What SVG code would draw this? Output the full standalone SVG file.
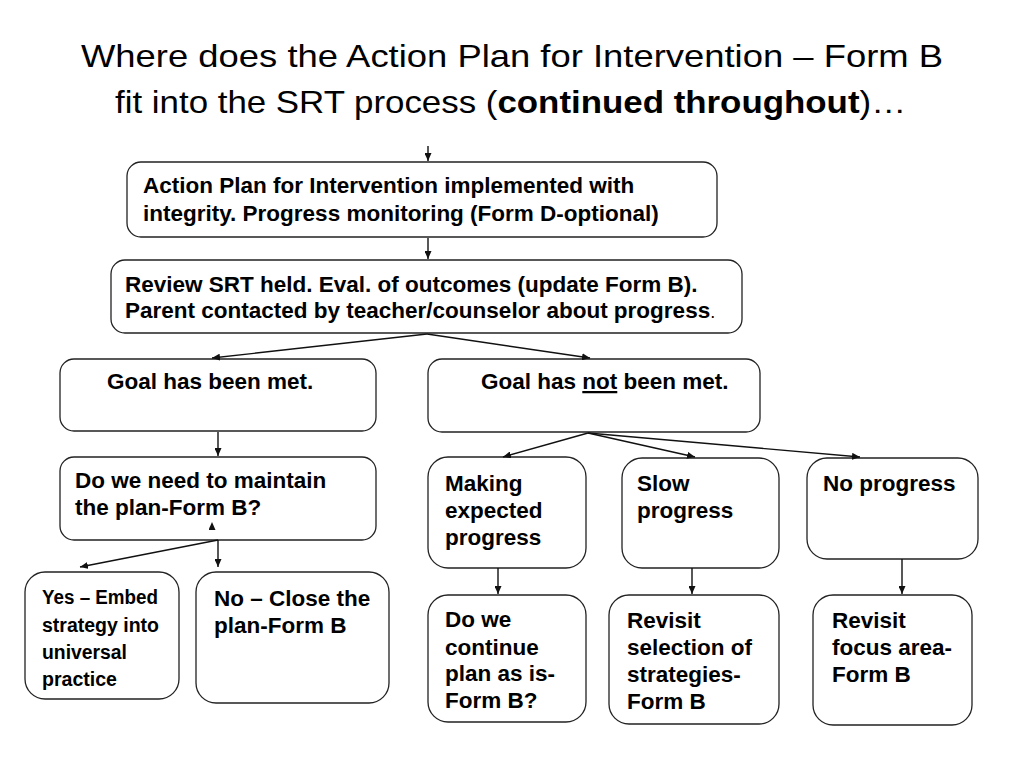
<svg xmlns="http://www.w3.org/2000/svg" width="1024" height="768" viewBox="0 0 1024 768">
<defs>
<style>
.bx{fill:#fff;stroke:#222;stroke-width:1.3}
.t{font-family:"Liberation Sans",Arial,sans-serif;font-weight:bold;font-size:22.5px;fill:#000}
.c{font-family:"Liberation Sans",Arial,sans-serif;font-weight:bold;font-size:20px;fill:#000}
.ttl{font-family:"Liberation Sans",Arial,sans-serif;font-size:32px;fill:#000}
.cn line{stroke:#111;stroke-width:1.4;marker-end:url(#ah)}
</style>
<marker id="ah" viewBox="0 0 8 7" refX="8" refY="3.5" markerWidth="8" markerHeight="7" markerUnits="userSpaceOnUse" orient="auto">
<path d="M0,0 L8,3.5 L0,7 z" fill="#111"/>
</marker>
</defs>
<rect width="1024" height="768" fill="#fff"/>
<g id="title">
<text class="ttl" x="81" y="67" textLength="862" lengthAdjust="spacingAndGlyphs">Where does the Action Plan for Intervention – Form B</text>
<text class="ttl" x="115" y="113" textLength="791" lengthAdjust="spacingAndGlyphs">fit into the SRT process (<tspan font-weight="bold">continued throughout</tspan>)…</text>
</g>
<g id="n1">
<rect class="bx" x="127" y="162" width="590" height="75" rx="14"/>
<text class="t" x="143" y="193">Action Plan for Intervention implemented with</text>
<text class="t" x="143" y="221">integrity. Progress monitoring (Form D-optional)</text>
</g>
<g id="n2">
<rect class="bx" x="111" y="260" width="631" height="73" rx="14"/>
<text class="t" x="125" y="292">Review SRT held. Eval. of outcomes (update Form B).</text>
<text class="t" x="125" y="318">Parent contacted by teacher/counselor about progress<tspan font-weight="normal" font-size="18">.</tspan></text>
</g>
<g id="n3">
<rect class="bx" x="60" y="359" width="316" height="72" rx="14"/>
<text class="t" x="107" y="389">Goal has been met.</text>
</g>
<g id="n4">
<rect class="bx" x="428" y="359" width="332" height="73" rx="14"/>
<text class="t" x="481" y="389">Goal has <tspan text-decoration="underline">not</tspan> been met.</text>
</g>
<g id="n5">
<rect class="bx" x="60" y="457" width="316" height="83" rx="14"/>
<text class="t" x="75" y="488">Do we need to maintain</text>
<text class="t" x="75" y="515">the plan-Form B?</text>
</g>
<g id="n6">
<rect class="bx" x="25" y="572" width="154" height="127" rx="20"/>
<text class="c" x="42" y="604" textLength="116" lengthAdjust="spacingAndGlyphs">Yes – Embed</text>
<text class="c" x="42" y="632" textLength="117" lengthAdjust="spacingAndGlyphs">strategy into</text>
<text class="c" x="42" y="659" textLength="85" lengthAdjust="spacingAndGlyphs">universal</text>
<text class="c" x="42" y="686" textLength="75" lengthAdjust="spacingAndGlyphs">practice</text>
</g>
<g id="n7">
<rect class="bx" x="196" y="572" width="193" height="131" rx="20"/>
<text class="t" x="214" y="606">No – Close the</text>
<text class="t" x="214" y="633">plan-Form B</text>
</g>
<g id="n8">
<rect class="bx" x="428" y="457" width="158" height="111" rx="20"/>
<text class="t" x="445" y="491">Making</text>
<text class="t" x="445" y="518">expected</text>
<text class="t" x="445" y="545">progress</text>
</g>
<g id="n9">
<rect class="bx" x="622" y="458" width="157" height="110" rx="20"/>
<text class="t" x="637" y="491">Slow</text>
<text class="t" x="637" y="518">progress</text>
</g>
<g id="n10">
<rect class="bx" x="807" y="458" width="171" height="101" rx="20"/>
<text class="t" x="823" y="491">No progress</text>
</g>
<g id="n11">
<rect class="bx" x="428" y="595" width="158" height="127" rx="20"/>
<text class="t" x="445" y="627">Do we</text>
<text class="t" x="445" y="655">continue</text>
<text class="t" x="445" y="681">plan as is-</text>
<text class="t" x="445" y="708">Form B?</text>
</g>
<g id="n12">
<rect class="bx" x="609" y="595" width="170" height="129" rx="20"/>
<text class="t" x="627" y="628">Revisit</text>
<text class="t" x="627" y="655">selection of</text>
<text class="t" x="627" y="682">strategies-</text>
<text class="t" x="627" y="709">Form B</text>
</g>
<g id="n13">
<rect class="bx" x="813" y="595" width="159" height="130" rx="20"/>
<text class="t" x="832" y="628">Revisit</text>
<text class="t" x="832" y="655">focus area-</text>
<text class="t" x="832" y="682">Form B</text>
</g>
<g class="cn" id="connectors">
<line x1="428" y1="146" x2="428" y2="161"/>
<line x1="428" y1="238" x2="428" y2="259"/>
<line x1="427" y1="334" x2="212" y2="358"/>
<line x1="427" y1="334" x2="590" y2="358"/>
<line x1="218" y1="432" x2="218" y2="456"/>
<line x1="212" y1="531" x2="212" y2="522" style="stroke:none"/>
<line x1="218" y1="540" x2="80" y2="567"/>
<line x1="218" y1="540" x2="218" y2="567"/>
<line x1="588" y1="433" x2="503" y2="457"/>
<line x1="588" y1="433" x2="695" y2="457"/>
<line x1="588" y1="433" x2="860" y2="457"/>
<line x1="498" y1="568" x2="498" y2="594"/>
<line x1="692" y1="568" x2="692" y2="594"/>
<line x1="902" y1="559" x2="902" y2="594"/>
</g>
</svg>
